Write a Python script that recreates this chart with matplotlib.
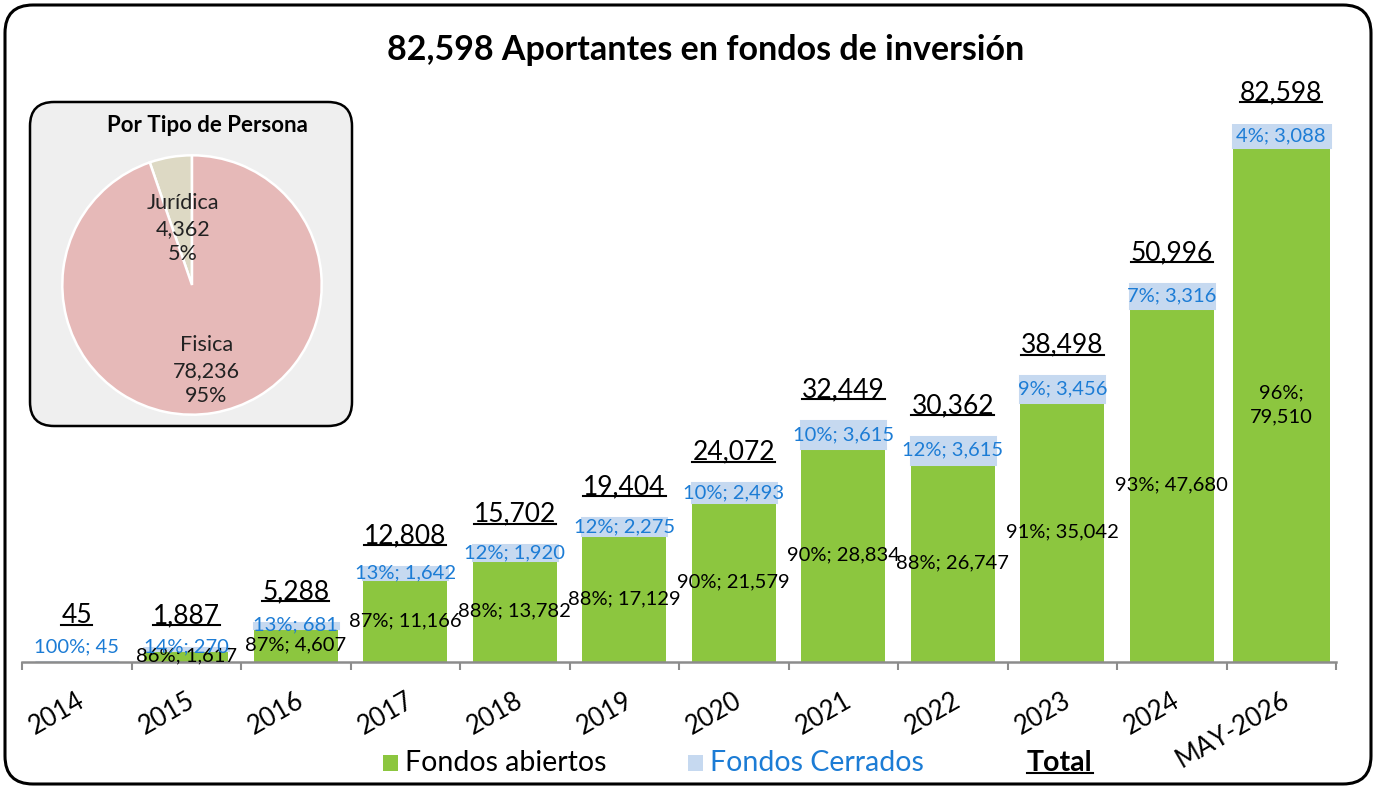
#!/usr/bin/env python
# Aportantes en fondos de inversion - stacked bars plus pie inset
import numpy as np
import matplotlib
matplotlib.use("Agg")
import matplotlib.pyplot as plt
from matplotlib.patches import FancyBboxPatch, Rectangle

plt.rcParams['font.family'] = ['Lato', 'DejaVu Sans']

# data
categorias = ['2014', '2015', '2016', '2017', '2018', '2019', '2020', '2021',
              '2022', '2023', '2024', 'MAY-2026']
abiertos = [0, 1617, 4607, 11166, 13782, 17129, 21579, 28834, 26747, 35042, 47680, 79510]
cerrados = [45, 270, 681, 1642, 1920, 2275, 2493, 3615, 3615, 3456, 3316, 3088]
pct_abiertos = [0, 86, 87, 87, 88, 88, 90, 90, 88, 91, 93, 96]
pct_cerrados = [100, 14, 13, 13, 12, 12, 10, 10, 12, 9, 7, 4]

tipo_persona = ['Jurídica', 'Fisica']
aportantes_tipo = [4362, 78236]
pct_tipo = [5, 95]

# colours
verde = '#8cc63f'
azul_claro = '#c6d9f0'
azul_txt = '#1c7cd5'
gris = '#8c8c8c'

W, H = 1376, 789
fig = plt.figure(figsize=(W / 100, H / 100), dpi=100)

# background axes in pixel units for frame, title and legend
bg = fig.add_axes([0, 0, 1, 1], zorder=0)
bg.set_xlim(0, W)
bg.set_ylim(H, 0)
bg.axis('off')

bg.add_patch(FancyBboxPatch((5, 5), W - 10, H - 10, boxstyle='round,pad=0,rounding_size=28',
                            fc='white', ec='black', lw=2.2))
bg.text(706, 50, '82,598 Aportantes en fondos de inversión', ha='center', va='center',
        fontsize=24.5, fontweight='bold')

# legend (manual, like the excel one)
bg.add_patch(Rectangle((383, 755), 15, 16, fc=verde, ec='none'))
bg.text(405, 763, 'Fondos abiertos', ha='left', va='center', fontsize=20.5)
bg.add_patch(Rectangle((688, 755), 15, 16, fc=azul_claro, ec='none'))
bg.text(710, 763, 'Fondos Cerrados', ha='left', va='center', fontsize=20.5, color=azul_txt)
total_leg = bg.text(1027, 763, 'Total', ha='left', va='center', fontsize=20.5, fontweight='bold')

# main bar chart
ymax = 72500
ax = fig.add_axes([22 / W, (H - 662) / H, 1314 / W, (662 - 124) / H], zorder=1)
ax.patch.set_alpha(0)

x = np.arange(len(categorias)) + 0.5
ab = np.array(abiertos)
ce = np.array(cerrados)
totales = ab + ce
# last bar goes above the axis top, the open part gets cut so the closed part still shows
ab_vis = np.minimum(ab, ymax - ce)
anchos = [0.77] * (len(categorias) - 1) + [0.89]

ax.bar(x, ab_vis, width=anchos, color=verde, zorder=2)
ax.bar(x, ce, bottom=ab_vis, width=anchos, color=azul_claro, edgecolor=azul_claro,
       lw=2.2, zorder=2)

ax.set_xlim(0, len(categorias))
ax.set_ylim(0, ymax)
for s in ['top', 'right', 'left']:
    ax.spines[s].set_visible(False)
ax.spines['bottom'].set_color(gris)
ax.spines['bottom'].set_linewidth(1.8)
ax.set_yticks([])
ax.set_xticks(x)
ax.set_xticklabels(categorias, rotation=30, ha='right', va='top', rotation_mode='anchor',
                   fontsize=18.5)
ax.tick_params(axis='x', which='major', length=0, pad=18.5)
ax.set_xticks(np.arange(len(categorias) + 1), minor=True)
ax.tick_params(axis='x', which='minor', length=6, width=1.5, color=gris)

totales_txt = []
for i in range(len(categorias)):
    if ab[i] > 0:
        sep = '\n' if i == len(categorias) - 1 else ' '
        ax.text(x[i], ab_vis[i] / 2, f'{pct_abiertos[i]}%;{sep}{ab[i]:,}', ha='center',
                va='center', fontsize=14.5, zorder=3, linespacing=1.5)
    y_ce = max(ab_vis[i] + ce[i] / 2, 2000)
    ax.text(x[i], y_ce, f'{pct_cerrados[i]}%; {ce[i]:,}', ha='center', va='center',
            fontsize=14.5, color=azul_txt, zorder=3)
    y_top = max(ab_vis[i] + ce[i], 2000)
    t = ax.annotate(f'{totales[i]:,}', (x[i], y_top), xytext=(0, 22.5),
                    textcoords='offset points', ha='center', va='center', fontsize=19,
                    annotation_clip=False)
    totales_txt.append(t)

# pie inset box
bg.add_patch(FancyBboxPatch((30, 102), 322, 324, boxstyle='round,pad=0,rounding_size=24',
                            fc='#efefef', ec='black', lw=1.8))
bg.text(207, 125, 'Por Tipo de Persona', ha='center', va='center', fontsize=16,
        fontweight='bold')

cx, cy, r = 192, 285, 131
axp = fig.add_axes([(cx - r) / W, (H - cy - r) / H, 2 * r / W, 2 * r / H], zorder=2)
wedges, _ = axp.pie(aportantes_tipo, colors=['#ddd9c4', '#e6b9b8'], startangle=90,
                    counterclock=True, wedgeprops=dict(edgecolor='white', linewidth=1.8))
axp.set_xlim(-1.01, 1.01)
axp.set_ylim(-1.01, 1.01)
dist = [0.44, 0.67]
for w, nom, val, p, d in zip(wedges, tipo_persona, aportantes_tipo, pct_tipo, dist):
    ang = np.deg2rad((w.theta1 + w.theta2) / 2)
    axp.text(d * np.cos(ang), d * np.sin(ang), f'{nom}\n{val:,}\n{p}%', ha='center',
             va='center', fontsize=15.5, linespacing=1.35, color='#222222')

# underline the totals
fig.canvas.draw()
rend = fig.canvas.get_renderer()
for t in totales_txt + [total_leg]:
    bb = t.get_window_extent(renderer=rend)
    y_line = (H - bb.y0) - 3
    bg.plot([bb.x0, bb.x1], [y_line, y_line], color='black', lw=1.5, zorder=5)

fig.savefig('out.png', dpi=100)
